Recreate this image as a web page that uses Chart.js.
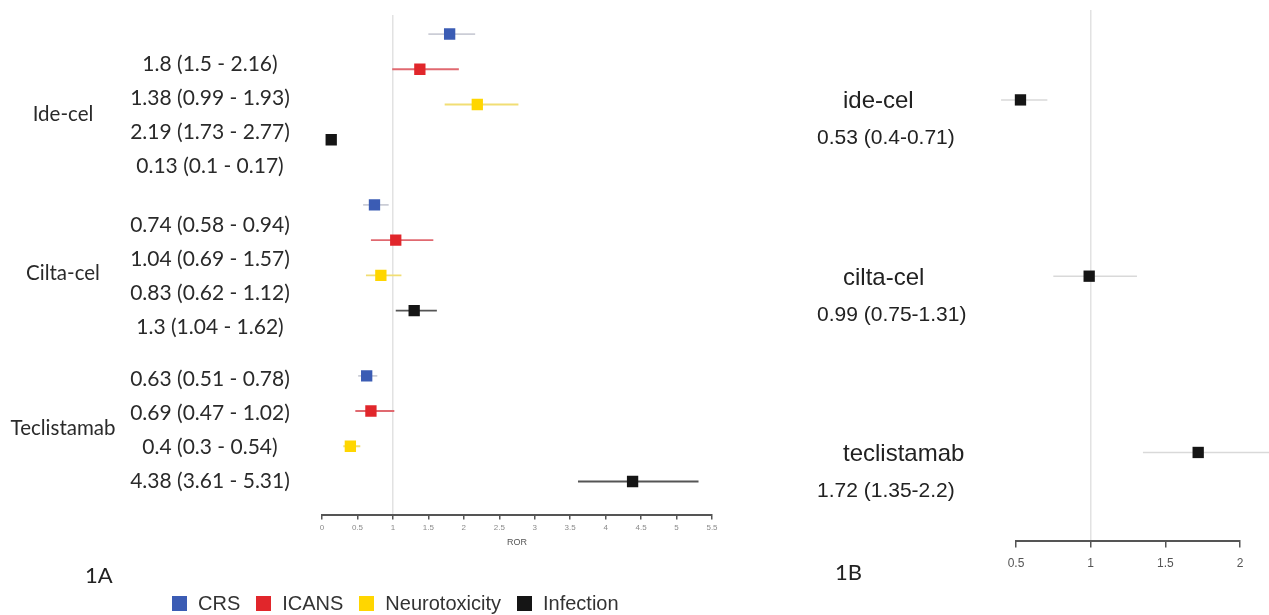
<!DOCTYPE html>
<html>
<head>
<meta charset="utf-8">
<script src="https://cdn.jsdelivr.net/npm/chart.js@4.4.1/dist/chart.umd.min.js"></script>
<style>
    body { margin: 0; background: #fff; width: 1269px; height: 615px; overflow: hidden; position: relative; }
    .box { position: absolute; top: 0; height: 615px; }
    #boxA { left: 0; width: 760px; }
    #boxB { left: 780px; width: 489px; }
    .tag { position: absolute; font-family: Lato, "Open Sans", sans-serif; font-size: 22px; color: #222; }
    #legend { position: absolute; left: 172px; top: 592px; display: flex; align-items: center;
        font-family: "Liberation Sans", Arial, sans-serif; font-size: 20px; color: #333; }
    #legend span.sw { display: inline-block; width: 15px; height: 15px; margin-right: 11px; }
    #legend span.it { margin-right: 16px; }
</style>
</head>
<body>
<div class="box" id="boxA"><canvas id="chartA"></canvas></div>
<div class="box" id="boxB"><canvas id="chartB"></canvas></div>
<div class="tag" style="left:85px; top:561px;">1A</div>
<div class="tag" style="left:835px; top:558px;">1B</div>
<div id="legend"></div>

<script>
    // panel 1A data
    var drugsA = ['Ide-cel', 'Cilta-cel', 'Teclistamab'];
    var events = ['CRS', 'ICANS', 'Neurotoxicity', 'Infection'];
    var rorA = [[1.8, 1.38, 2.19, 0.13], [0.74, 1.04, 0.83, 1.3], [0.63, 0.69, 0.4, 4.38]];
    var lowA = [[1.5, 0.99, 1.73, 0.1], [0.58, 0.69, 0.62, 1.04], [0.51, 0.47, 0.3, 3.61]];
    var upA = [[2.16, 1.93, 2.77, 0.17], [0.94, 1.57, 1.12, 1.62], [0.78, 1.02, 0.54, 5.31]];

    // panel 1B data
    var drugsB = ['ide-cel', 'cilta-cel', 'teclistamab'];
    var rorB = [0.53, 0.99, 1.72];
    var lowB = [0.4, 0.75, 1.35];
    var upB = [0.71, 1.31, 2.2];

    var pointColors = ['#3b5cb4', '#e1262b', '#ffd600', '#151515'];
    var ciColors = ['#cbcdd6', '#e06970', '#f1de74', '#555555'];

    // layout constants (row units)
    var groupStep = 4.85;
    var lblShift = [0.87, 0.58, 0.1];
    var lblStep = 0.96;
    var nameShift = [2.27, 1.94, 1.49];

    var legend = document.getElementById('legend');
    events.forEach(function (e, i) {
        legend.innerHTML += '<span class="sw" style="background:' + pointColors[i] + '"></span><span class="it">' + e + '</span>';
    });

    function fmt(r, l, u, sep) {
        return r + ' (' + l + sep + u + ')';
    }
    function plainTick(v) { return String(Math.round(v * 100) / 100); }

    // ---------- chart 1A ----------
    var dsA = [];
    events.forEach(function (e, c) {
        dsA.push({
            label: e,
            data: drugsA.map(function (d, g) { return { x: rorA[g][c], y: g * groupStep + c }; }),
            pointStyle: 'rect',
            pointRadius: 8,
            pointHoverRadius: 8,
            backgroundColor: pointColors[c],
            borderColor: pointColors[c],
            borderWidth: 0,
            order: 0
        });
    });
    drugsA.forEach(function (d, g) {
        events.forEach(function (e, c) {
            dsA.push({
                label: d + ' ' + e + ' CI',
                data: [{ x: lowA[g][c], y: g * groupStep + c }, { x: upA[g][c], y: g * groupStep + c }],
                showLine: true,
                pointRadius: 0,
                borderColor: ciColors[c],
                borderWidth: 1.8,
                order: 1
            });
        });
    });

    var textA = {
        id: 'textA',
        afterDraw: function (chart) {
            var ctx = chart.ctx, y = chart.scales.y;
            ctx.save();
            ctx.fillStyle = '#2a2a2a';
            ctx.textAlign = 'center';
            ctx.textBaseline = 'middle';
            drugsA.forEach(function (d, g) {
                ctx.font = '20.5px Lato, "Open Sans", sans-serif';
                ctx.fillText(d, 63, y.getPixelForValue(g * groupStep + nameShift[g]));
                events.forEach(function (e, c) {
                    ctx.font = '21px Lato, "Open Sans", sans-serif';
                    ctx.fillText(fmt(rorA[g][c], lowA[g][c], upA[g][c], ' - '), 210,
                        y.getPixelForValue(g * groupStep + c * lblStep + lblShift[g]));
                });
            });
            ctx.restore();
        }
    };

    new Chart(document.getElementById('chartA'), {
        type: 'scatter',
        data: { datasets: dsA },
        options: {
            responsive: true,
            maintainAspectRatio: false,
            animation: false,
            layout: { padding: { left: 322, right: 48, top: 15, bottom: 67 } },
            plugins: { legend: { display: false }, tooltip: { enabled: false } },
            scales: {
                x: {
                    min: 0, max: 5.5,
                    ticks: { stepSize: 0.5, color: '#8a8a8a', font: { size: 8, family: 'Liberation Sans' }, padding: 3, maxRotation: 0, callback: plainTick },
                    grid: {
                        color: function (ctx) { return ctx.tick && ctx.tick.value === 1 ? '#e2e2e2' : 'rgba(0,0,0,0)'; },
                        lineWidth: 1.5,
                        tickColor: '#555', tickLength: 5
                    },
                    border: { display: true, color: '#555', width: 2 },
                    title: { display: true, text: 'ROR', color: '#555', font: { size: 9, family: 'Liberation Sans' }, padding: { top: 2, bottom: 0 } }
                },
                y: {
                    reverse: true, min: -0.54, max: 13.64,
                    display: false
                }
            }
        },
        plugins: [textA]
    });

    // ---------- chart 1B ----------
    var dsB = [{
        label: 'ROR',
        data: drugsB.map(function (d, i) { return { x: rorB[i], y: i }; }),
        pointStyle: 'rect',
        pointRadius: 8,
        pointHoverRadius: 8,
        backgroundColor: '#151515',
        borderWidth: 0,
        clip: false,
        order: 0
    }];
    drugsB.forEach(function (d, i) {
        dsB.push({
            label: d + ' CI',
            data: [{ x: lowB[i], y: i }, { x: upB[i], y: i }],
            showLine: true,
            pointRadius: 0,
            borderColor: '#d9d9d9',
            borderWidth: 1.5,
            clip: false,
            order: 1
        });
    });

    var textB = {
        id: 'textB',
        afterDraw: function (chart) {
            var ctx = chart.ctx, y = chart.scales.y;
            ctx.save();
            ctx.fillStyle = '#222';
            ctx.textAlign = 'left';
            ctx.textBaseline = 'middle';
            drugsB.forEach(function (d, i) {
                ctx.font = '24px "Liberation Sans", Arial, sans-serif';
                ctx.fillText(d, 63, y.getPixelForValue(i + 0.01));
                ctx.font = '21px "Liberation Sans", Arial, sans-serif';
                ctx.fillText(fmt(rorB[i], lowB[i], upB[i], '-'), 37, y.getPixelForValue(i + 0.22));
            });
            ctx.restore();
        }
    };

    new Chart(document.getElementById('chartB'), {
        type: 'scatter',
        data: { datasets: dsB },
        options: {
            responsive: true,
            maintainAspectRatio: false,
            animation: false,
            layout: { padding: { left: 236, right: 29, top: 10, bottom: 35 } },
            plugins: { legend: { display: false }, tooltip: { enabled: false } },
            scales: {
                x: {
                    min: 0.5, max: 2,
                    ticks: { stepSize: 0.5, color: '#555', font: { size: 12, family: 'Liberation Sans' }, padding: 9, maxRotation: 0, callback: plainTick },
                    grid: {
                        color: function (ctx) { return ctx.tick && ctx.tick.value === 1 ? '#e2e2e2' : 'rgba(0,0,0,0)'; },
                        lineWidth: 1.5,
                        tickColor: '#555', tickLength: 7
                    },
                    border: { display: true, color: '#555', width: 2 }
                },
                y: {
                    reverse: true, min: -0.51, max: 2.5,
                    display: false
                }
            }
        },
        plugins: [textB]
    });
</script>
</body>
</html>
